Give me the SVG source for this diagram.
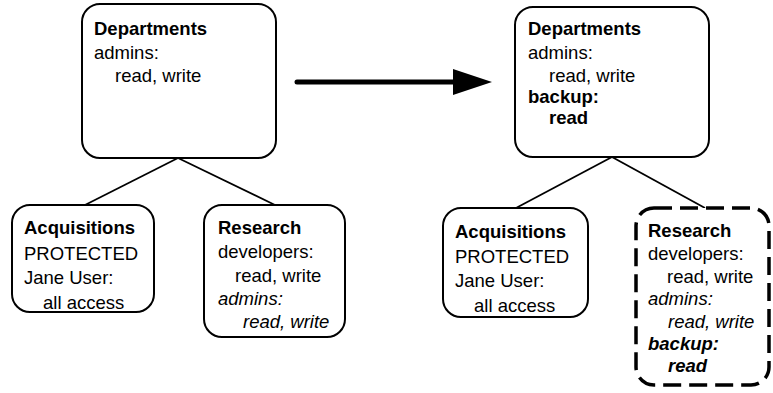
<svg xmlns="http://www.w3.org/2000/svg" width="773" height="393" viewBox="0 0 773 393">
  <style>
    .box { fill: #ffffff; stroke: #000000; stroke-width: 2; }
    .dashed { stroke-width: 3.5; stroke-dasharray: 18 8; }
    .link { stroke: #000000; stroke-width: 1.8; fill: none; }
    text { font-family: "Liberation Sans", Arial, sans-serif; font-size: 18.5px; fill: #000000; }
    .b { font-weight: bold; }
    .i { font-style: italic; }
  </style>
  <rect width="773" height="393" fill="#ffffff"/>

  <!-- tree connectors -->
  <g id="connectors">
    <line class="link" x1="178" y1="158" x2="85" y2="205"/>
    <line class="link" x1="178" y1="158" x2="275" y2="205"/>
    <line class="link" x1="612" y1="157" x2="516" y2="208"/>
    <line class="link" x1="612" y1="157" x2="705" y2="208"/>
    <!-- transition arrow -->
    <line x1="297" y1="82" x2="458" y2="82" stroke="#000000" stroke-width="5" stroke-linecap="round"/>
    <polygon points="453,69 492,82 453,95" fill="#000000"/>
  </g>

  <!-- before: parent -->
  <g id="departments-before">
    <rect class="box" x="82" y="4" width="194" height="154" rx="18"/>
    <text x="94" y="35" class="b">Departments</text>
    <text x="94" y="59">admins:</text>
    <text x="115" y="82">read, write</text>
  </g>

  <g id="acquisitions-before">
    <rect class="box" x="12" y="205" width="142" height="107" rx="18"/>
    <text x="24" y="234" class="b">Acquisitions</text>
    <text x="24" y="260">PROTECTED</text>
    <text x="24" y="284">Jane User:</text>
    <text x="43" y="309">all access</text>
  </g>

  <g id="research-before">
    <rect class="box" x="204" y="205" width="141" height="132" rx="18"/>
    <text x="218" y="234" class="b">Research</text>
    <text x="218" y="258">developers:</text>
    <text x="235" y="282">read, write</text>
    <text x="218" y="305" class="i">admins:</text>
    <text x="243" y="328" class="i">read, write</text>
  </g>

  <!-- after: parent with backup -->
  <g id="departments-after">
    <rect class="box" x="515" y="7" width="194" height="150" rx="18"/>
    <text x="528" y="35" class="b">Departments</text>
    <text x="528" y="59">admins:</text>
    <text x="549" y="82">read, write</text>
    <text x="528" y="103" class="b">backup:</text>
    <text x="549" y="124" class="b">read</text>
  </g>

  <g id="acquisitions-after">
    <rect class="box" x="443" y="208" width="145" height="109" rx="18"/>
    <text x="455" y="238" class="b">Acquisitions</text>
    <text x="455" y="263">PROTECTED</text>
    <text x="455" y="287">Jane User:</text>
    <text x="474" y="312">all access</text>
  </g>

  <g id="research-after">
    <rect class="box dashed" x="636" y="208" width="133" height="177" rx="18"/>
    <text x="648" y="237" class="b">Research</text>
    <text x="648" y="260">developers:</text>
    <text x="667" y="283">read, write</text>
    <text x="648" y="305" class="i">admins:</text>
    <text x="668" y="328" class="i">read, write</text>
    <text x="648" y="350" class="b i">backup:</text>
    <text x="668" y="372" class="b i">read</text>
  </g>
</svg>
